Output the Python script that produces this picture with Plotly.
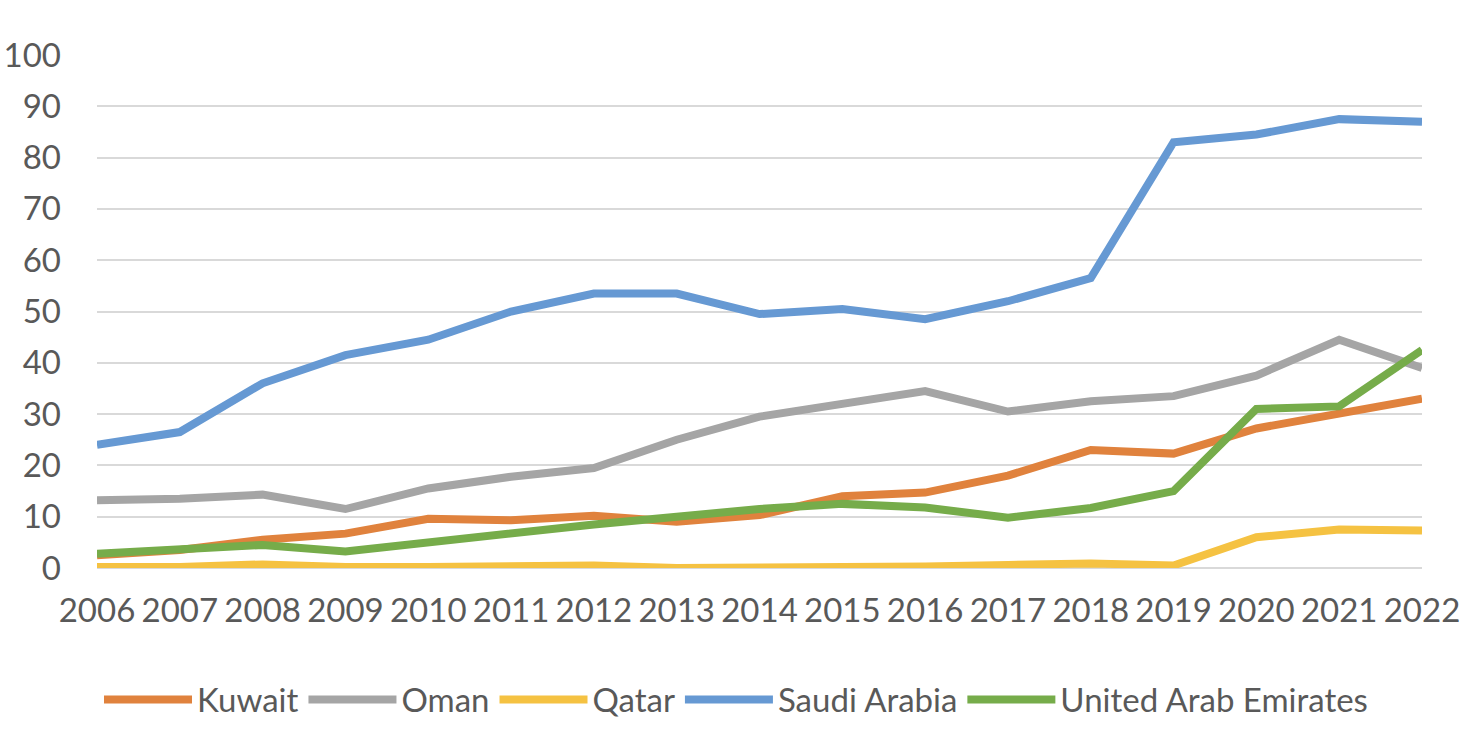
import plotly.graph_objects as go

years = list(range(2006, 2023))
kuwait = [2.5, 3.5, 5.5, 6.7, 9.6, 9.3, 10.2, 9.0, 10.3, 14.0, 14.7, 18.0, 23.0, 22.3, 27.2, 30.0, 33.0]
oman = [13.2, 13.5, 14.3, 11.5, 15.5, 17.8, 19.5, 25.0, 29.5, 32.0, 34.5, 30.5, 32.5, 33.5, 37.5, 44.5, 39.0]
qatar = [0.2, 0.2, 0.7, 0.2, 0.2, 0.2, 0.5, 0.0, 0.0, 0.0, 0.3, 0.6, 0.9, 0.5, 6.0, 7.5, 7.3]
saudi = [24.0, 26.5, 36.0, 41.5, 44.5, 50.0, 53.5, 53.5, 49.5, 50.5, 48.5, 52.0, 56.5, 83.0, 84.5, 87.5, 87.0]
uae = [2.8, 3.5, 4.5, 3.2, 5.0, 6.5, 8.5, 10.0, 11.5, 12.5, 11.8, 9.8, 11.7, 15.0, 31.0, 31.5, 42.5]

series = [
    ("Kuwait", kuwait, "#E0823D"),
    ("Oman", oman, "#A5A5A5"),
    ("Qatar", qatar, "#F5C242"),
    ("Saudi Arabia", saudi, "#6699D3"),
    ("United Arab Emirates", uae, "#76AC4A"),
]

fig = go.Figure()
for name, vals, color in series:
    fig.add_trace(go.Scatter(x=years, y=vals, name=name, mode="lines",
                             line=dict(color=color, width=8)))

font_family = "Lato, Open Sans, sans-serif"
fig.update_layout(
    width=1472, height=738,
    margin=dict(l=97, r=50, t=55, b=170, autoexpand=False),
    paper_bgcolor="white", plot_bgcolor="white",
    font=dict(family=font_family, color="#595959", size=30),
    showlegend=True,
    legend=dict(orientation="h", xref="container", yref="container",
                x=0.5, xanchor="center", y=0.052, yanchor="middle",
                font=dict(size=33, color="#595959"), itemwidth=88,
                traceorder="normal"),
    xaxis=dict(range=[2006, 2022], tickmode="array", tickvals=years,
               ticktext=[str(y) for y in years], showgrid=False, zeroline=False,
               showline=False, tickfont=dict(size=33), ticklabelstandoff=20),
    yaxis=dict(range=[0, 100], tickvals=list(range(0, 101, 10)), showgrid=True,
               gridcolor="#D9D9D9", gridwidth=2, zeroline=True, zerolinecolor="#D9D9D9",
               zerolinewidth=2, showline=False, tickfont=dict(size=33), ticklabelstandoff=35),
)

fig.write_html("out.html")
